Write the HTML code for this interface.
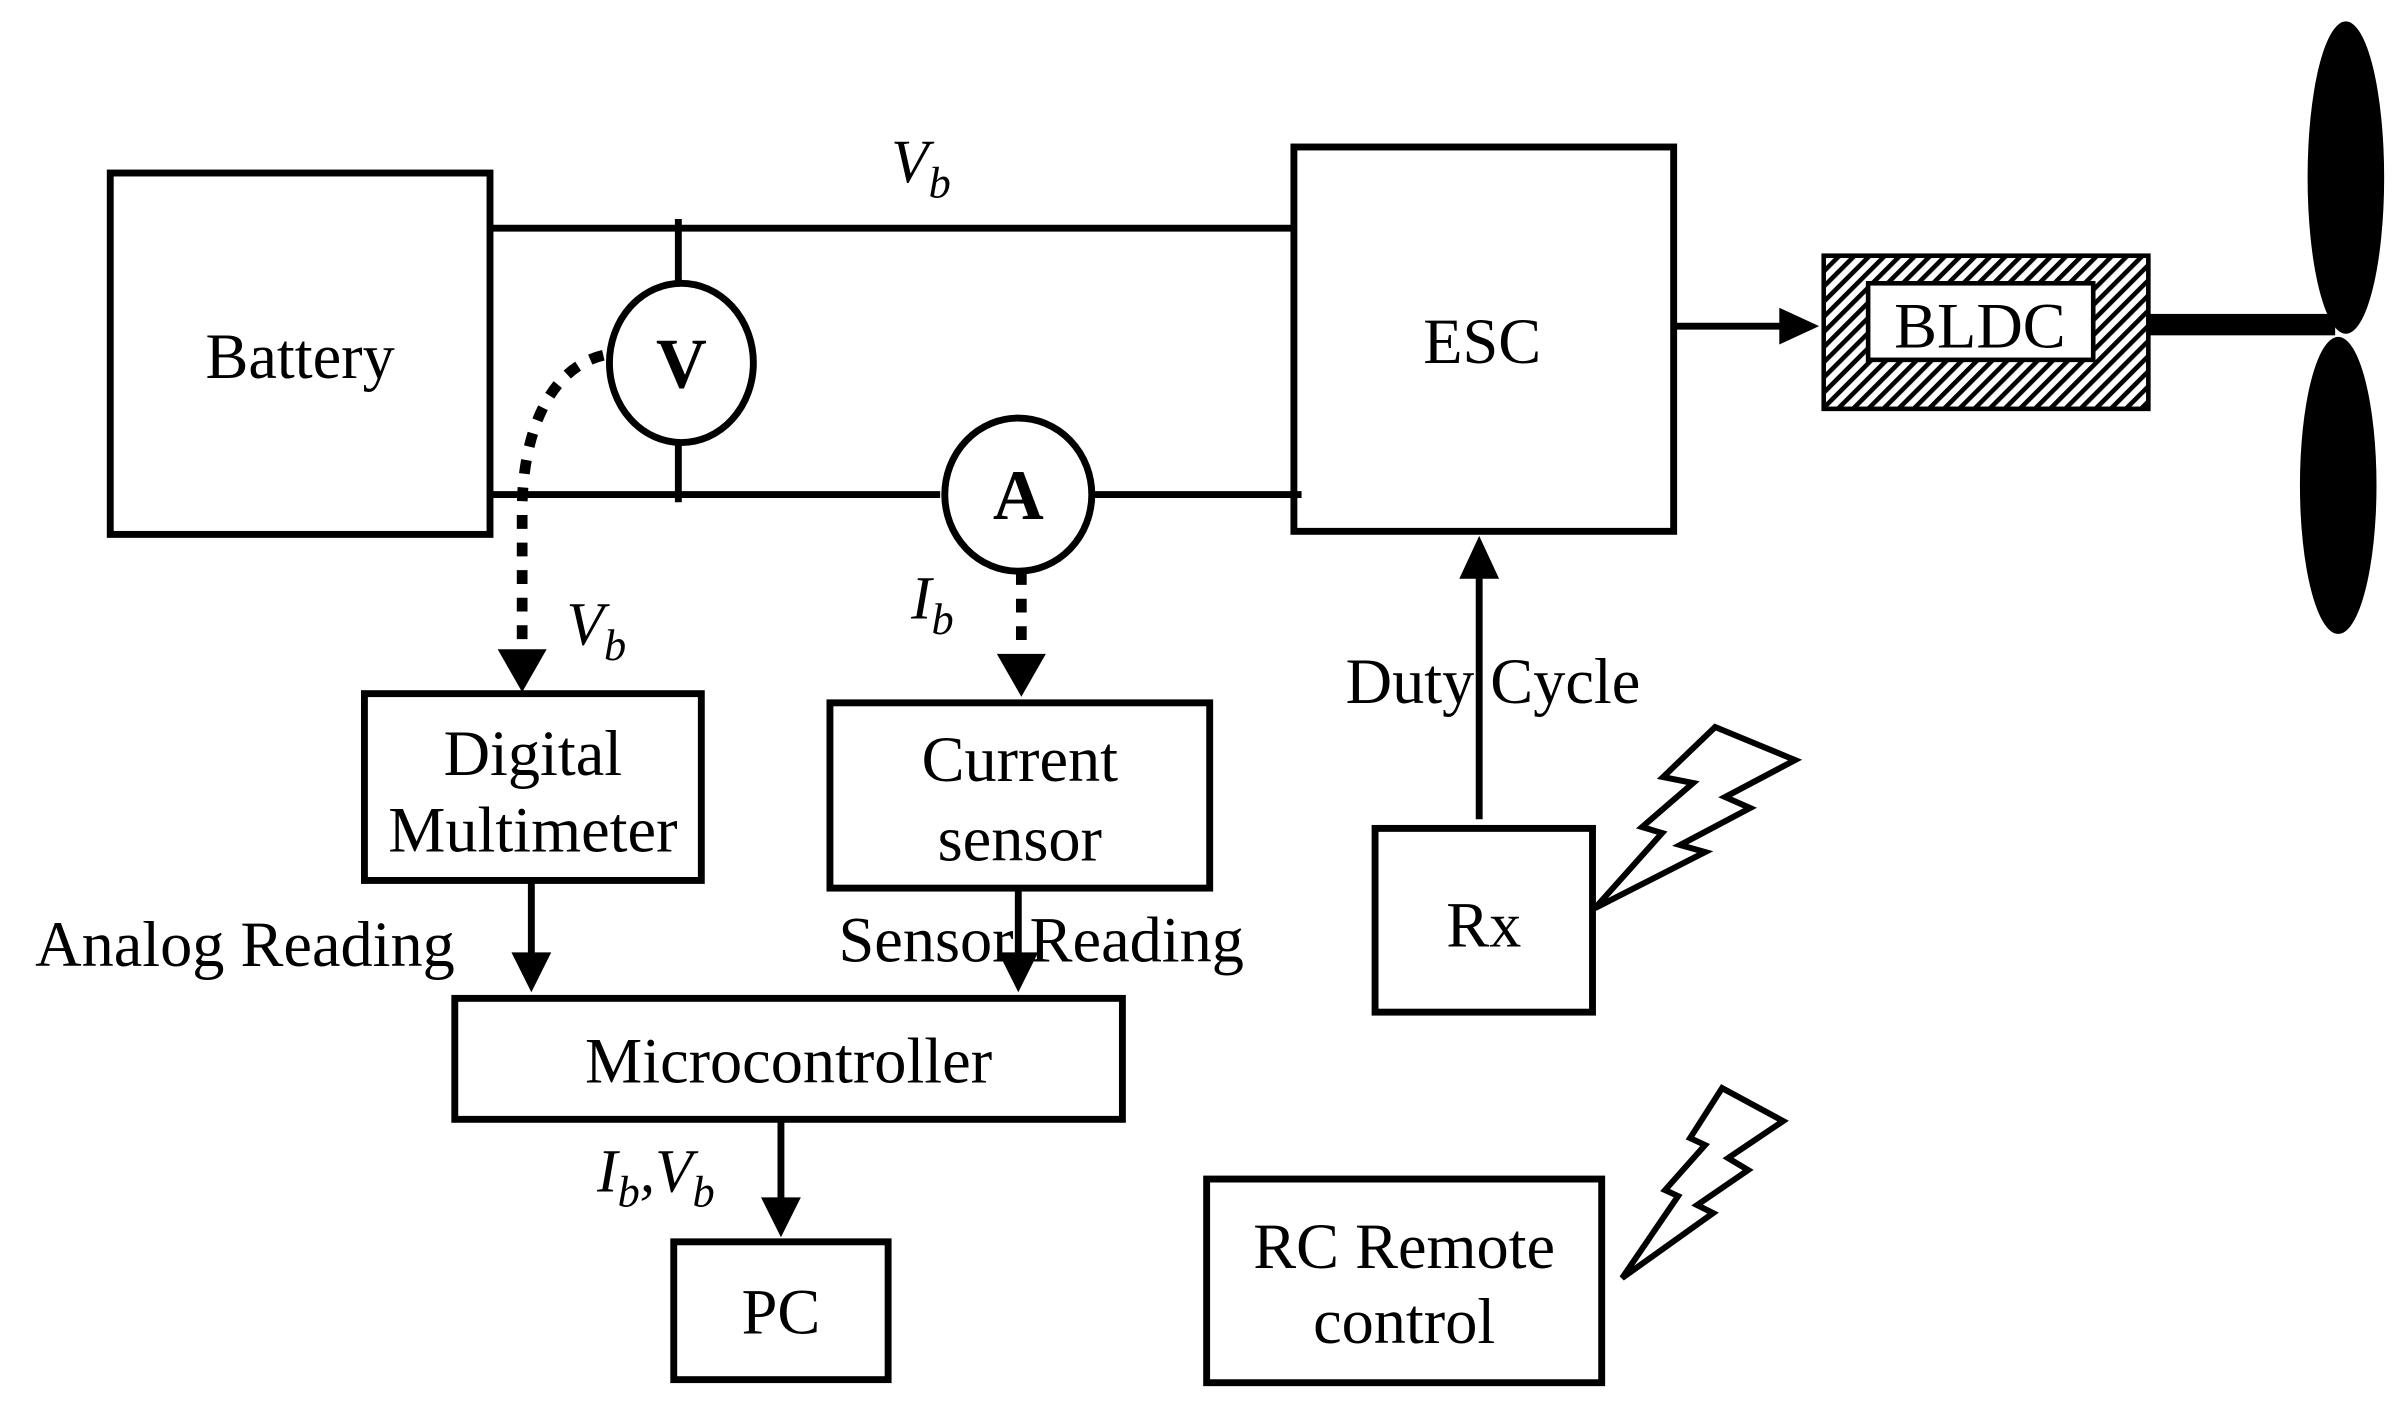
<!DOCTYPE html>
<html><head><meta charset="utf-8"><style>
html,body{margin:0;padding:0;background:#fff;}
svg{display:block;}
text{font-family:"Liberation Serif",serif;fill:#000;}
</style></head><body>
<svg width="2401" height="1417" viewBox="0 0 1568 925.4" preserveAspectRatio="none" xmlns="http://www.w3.org/2000/svg">
<defs>
<pattern id="h" width="7" height="7" patternUnits="userSpaceOnUse" patternTransform="rotate(45)">
<rect width="7" height="7" fill="#fff"/><rect width="3" height="7" fill="#000"/>
</pattern>
</defs>
<g fill="none" stroke="#000" stroke-width="4.5">
<rect x="72" y="113" width="248" height="236"/>
<rect x="845" y="96" width="248" height="251"/>
<rect x="238" y="453" width="220" height="122"/>
<rect x="542" y="459" width="248" height="121"/>
<rect x="297" y="652" width="436" height="79"/>
<rect x="440" y="811" width="140" height="90"/>
<rect x="898" y="541" width="142" height="120"/>
<rect x="788" y="770" width="258" height="133"/>
<line x1="320" y1="149" x2="845" y2="149"/>
<line x1="320" y1="323" x2="614" y2="323"/>
<line x1="714" y1="323" x2="850" y2="323"/>
<line x1="443" y1="143" x2="443" y2="186"/>
<line x1="443" y1="290" x2="443" y2="328"/>
<ellipse cx="445" cy="237" rx="47" ry="52"/>
<ellipse cx="665" cy="323" rx="48" ry="50"/>
<path d="M394,232 C360,240 342,280 341,330 L341,425" stroke-width="7" stroke-dasharray="9,9"/>
<line x1="667" y1="373" x2="667" y2="425" stroke-width="7" stroke-dasharray="9,9"/>
<line x1="347" y1="575" x2="347" y2="625"/>
<line x1="665" y1="580" x2="665" y2="625"/>
<line x1="510" y1="731" x2="510" y2="785"/>
<line x1="966" y1="535" x2="966" y2="375"/>
<line x1="1093" y1="213" x2="1165" y2="213"/>
</g>
<g fill="#000">
<polygon points="325,424 357,424 341,452"/>
<polygon points="651,427 683,427 667,455"/>
<polygon points="334,622 360,622 347,648"/>
<polygon points="652,622 678,622 665,648"/>
<polygon points="497,782 523,782 510,808"/>
<polygon points="953,378 979,378 966,350"/>
<polygon points="1162,201 1162,225 1188,213"/>
<rect x="1403" y="205" width="122" height="14"/>
<ellipse cx="1532" cy="116" rx="25" ry="102"/>
<ellipse cx="1527" cy="317" rx="25" ry="97"/>
</g>
<rect x="1191" y="167" width="212" height="100" fill="url(#h)" stroke="#000" stroke-width="3"/>
<rect x="1220" y="185" width="147" height="50" fill="#fff" stroke="#000" stroke-width="3"/>
<g transform="scale(0.6531)" fill="#fff" stroke="#000" stroke-width="6" stroke-linejoin="miter">
<polygon points="1595,908 1662,833 1642,827 1693,783 1663,777 1715,727 1795,760 1725,797 1750,808 1680,845 1705,852"/>
<g transform="translate(0,58)">
<polygon points="1622,1220 1678,1138 1665,1132 1705,1087 1690,1080 1722,1030 1783,1063 1728,1100 1748,1112 1697,1147 1713,1155"/>
</g>
</g>
<g font-size="42" text-anchor="middle">
<text x="196" y="247">Battery</text>
<text x="968" y="237">ESC</text>
<text x="1293" y="227">BLDC</text>
<text x="348" y="506">Digital</text>
<text x="348" y="556">Multimeter</text>
<text x="666" y="510">Current</text>
<text x="666" y="562">sensor</text>
<text x="515" y="707">Microcontroller</text>
<text x="510" y="871">PC</text>
<text x="969" y="618">Rx</text>
<text x="917" y="828">RC Remote</text>
<text x="917" y="877">control</text>
<text x="975" y="459">Duty Cycle</text>
<text x="160" y="631">Analog Reading</text>
<text x="680" y="628">Sensor Reading</text>
<text x="445" y="253" font-weight="bold" font-size="46">V</text>
<text x="665" y="339" font-weight="bold" font-size="46">A</text>
</g>
<g font-size="40" font-style="italic">
<text x="582" y="119">V<tspan font-size="29" dy="10">b</tspan></text>
<text x="370" y="421">V<tspan font-size="29" dy="10">b</tspan></text>
<text x="595" y="404">I<tspan font-size="29" dy="10">b</tspan></text>
<text x="390" y="778">I<tspan font-size="29" dy="10">b</tspan><tspan dy="-10">,V</tspan><tspan font-size="29" dy="10">b</tspan></text>
</g>
</svg>
</body></html>
